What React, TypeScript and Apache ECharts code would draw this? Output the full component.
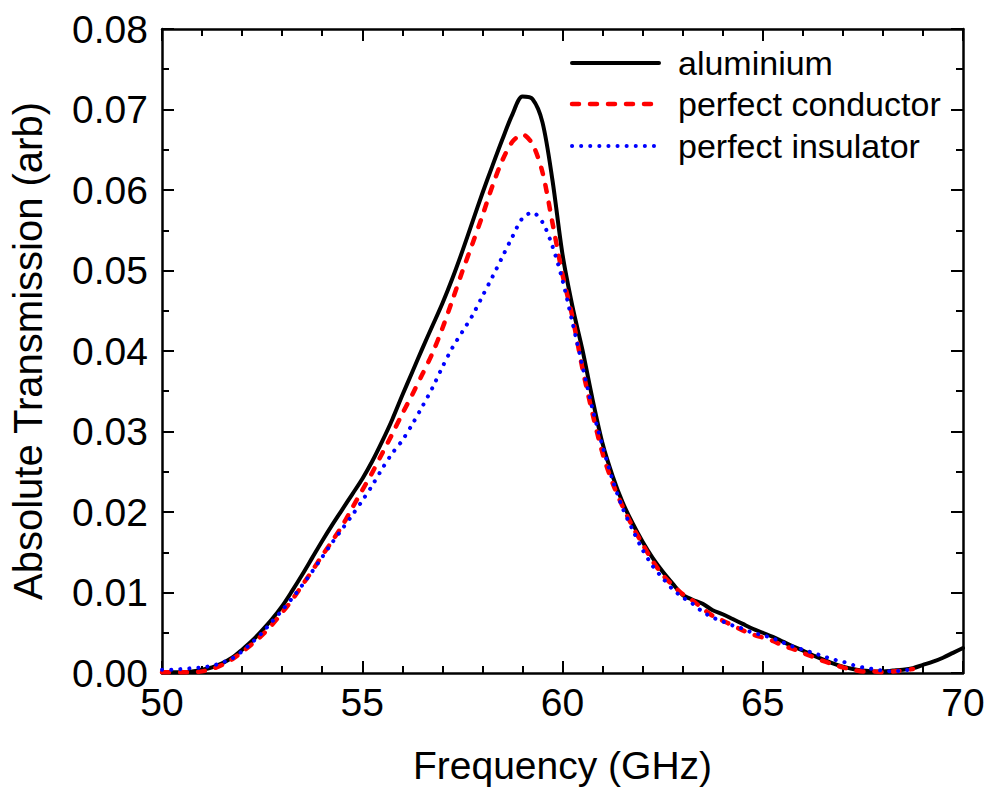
import React, { useEffect, useRef } from "react";
import * as echarts from "echarts";

const freq: number[] = [
  50.0, 50.25, 50.5, 50.75, 51.0, 51.25, 51.5, 51.75, 52.0, 52.25, 52.5, 52.75,
  53.0, 53.25, 53.5, 53.75, 54.0, 54.25, 54.5, 54.75, 55.0, 55.25, 55.5, 55.75,
  56.0, 56.25, 56.5, 56.75, 57.0, 57.25, 57.5, 57.75, 58.0, 58.25, 58.5, 58.75,
  59.0, 59.25, 59.5, 59.75, 60.0, 60.25, 60.5, 60.75, 61.0, 61.25, 61.5, 61.75,
  62.0, 62.25, 62.5, 62.75, 63.0, 63.25, 63.5, 63.75, 64.0, 64.25, 64.5, 64.75,
  65.0, 65.25, 65.5, 65.75, 66.0, 66.25, 66.5, 66.75, 67.0, 67.25, 67.5, 67.75,
  68.0, 68.25, 68.5, 68.75, 69.0, 69.25, 69.5, 69.75, 70.0,
];

const aluminium: (number | null)[] = [
  0.0001, 0.0001, 0.0001, 0.0002, 0.0004, 0.0007, 0.0012, 0.0019, 0.0029, 0.004, 0.0053, 0.0067,
  0.0083, 0.0102, 0.0122, 0.0143, 0.0164, 0.0184, 0.0203, 0.0222, 0.0241, 0.0263, 0.0288, 0.0315,
  0.0345, 0.0374, 0.0403, 0.0431, 0.0459, 0.049, 0.0524, 0.056, 0.0596, 0.063, 0.0663, 0.0694,
  0.0716, 0.0713, 0.0684, 0.0612, 0.052, 0.0455, 0.0401, 0.034, 0.0285, 0.0245, 0.0212, 0.0186,
  0.0163, 0.0143, 0.0126, 0.0111, 0.0097, 0.0091, 0.0086, 0.0078, 0.0073, 0.0067, 0.0061, 0.0055,
  0.005, 0.0045, 0.0039, 0.0033, 0.0028, 0.0022, 0.0017, 0.0012, 0.0008, 0.0005, 0.0003, 0.0002,
  0.0002, 0.0003, 0.0004, 0.0006, 0.001, 0.0014, 0.0019, 0.0025, 0.0031,
];

const perfectConductor: (number | null)[] = [
  0.0001, 0.0001, 0.0001, 0.0001, 0.0002, 0.0005, 0.001, 0.0017, 0.0026, 0.0036, 0.0047, 0.006,
  0.0075, 0.0091, 0.0109, 0.0127, 0.0146, 0.0164, 0.0183, 0.0205, 0.0227, 0.0249, 0.0273, 0.0297,
  0.0322, 0.0346, 0.0371, 0.0397, 0.0428, 0.0463, 0.0499, 0.0533, 0.0568, 0.0605, 0.0637, 0.066,
  0.0669, 0.0657, 0.0622, 0.0559, 0.0495, 0.0442, 0.0378, 0.0322, 0.0273, 0.0236, 0.0207, 0.0182,
  0.016, 0.0139, 0.0122, 0.0109, 0.0098, 0.009, 0.008, 0.0071, 0.0065, 0.0059, 0.0053, 0.0048,
  0.0044, 0.004, 0.0034, 0.003, 0.0025, 0.002, 0.0015, 0.0011, 0.0007, 0.0004, 0.0002, 0.0002,
  0.0001, 0.0002, 0.0003, 0.0005, null, null, null, null, null,
];

const perfectInsulator: (number | null)[] = [
  0.0004, 0.0004, 0.0005, 0.0006, 0.0007, 0.0009, 0.0013, 0.0018, 0.0027, 0.0038, 0.005, 0.0064,
  0.0078, 0.0093, 0.0109, 0.0126, 0.0144, 0.0162, 0.0179, 0.0196, 0.0214, 0.0233, 0.0254, 0.0273,
  0.0289, 0.0309, 0.0331, 0.0354, 0.038, 0.0404, 0.0424, 0.0444, 0.0468, 0.0492, 0.0517, 0.0542,
  0.0565, 0.0572, 0.056, 0.053, 0.0488, 0.0435, 0.0381, 0.0328, 0.0282, 0.024, 0.0205, 0.0178,
  0.0153, 0.0133, 0.0118, 0.0104, 0.0094, 0.0086, 0.0076, 0.0069, 0.0064, 0.0059, 0.0055, 0.005,
  0.0047, 0.0043, 0.0038, 0.0033, 0.0029, 0.0025, 0.0021, 0.0017, 0.0014, 0.001, 0.0007, 0.0005,
  0.0003, 0.0002, 0.0003, 0.0005, null, null, null, null, null,
];

const seriesNames = ["aluminium", "perfect conductor", "perfect insulator"];
const seriesColors = ["#000000", "#ff0000", "#0000ff"];

const FONT = "Liberation Sans, Arial, Helvetica, sans-serif";

function pairs(vals: (number | null)[]) {
  const out: number[][] = [];
  freq.forEach((f, i) => {
    if (vals[i] !== null && vals[i] !== undefined) out.push([f, vals[i] as number]);
  });
  return out;
}

const lineStyles = [
  { width: 4, type: "solid" as any },
  { width: 4.5, type: [7, 11] as any },
  { width: 4, type: [0.1, 9] as any },
];

export default function App() {
  const ref = useRef<HTMLDivElement>(null);
  useEffect(() => {
    if (!ref.current) return;
    const chart = echarts.init(ref.current, null, { renderer: "svg" });
    const axisLineStyle = { color: "#000", width: 2.5 };
    const baseX = {
      type: "value" as const,
      min: 50,
      max: 70,
      interval: 5,
      splitLine: { show: false },
      axisLine: { show: true, onZero: false, lineStyle: axisLineStyle },
      axisTick: { show: true, inside: true, length: 12, lineStyle: { color: "#000", width: 2 } },
      minorTick: { show: true, splitNumber: 5, length: 7, lineStyle: { color: "#000", width: 2 } },
    };
    const baseY = {
      type: "value" as const,
      min: 0,
      max: 0.08,
      interval: 0.01,
      splitLine: { show: false },
      axisLine: { show: true, onZero: false, lineStyle: axisLineStyle },
      axisTick: { show: true, inside: true, length: 12, lineStyle: { color: "#000", width: 2 } },
      minorTick: { show: true, splitNumber: 2, length: 7, lineStyle: { color: "#000", width: 2 } },
    };

    const legendRowsY = [63, 104, 146];
    const legendGraphics: any[] = [];
    seriesNames.forEach((name, i) => {
      legendGraphics.push({
        type: "line",
        shape: { x1: 572, y1: legendRowsY[i], x2: 659, y2: legendRowsY[i] },
        style: {
          stroke: seriesColors[i],
          lineWidth: lineStyles[i].width,
          lineDash: Array.isArray(lineStyles[i].type) ? lineStyles[i].type : null,
          lineCap: "round",
        },
        z: 10,
      });
      legendGraphics.push({
        type: "text",
        x: 678,
        y: legendRowsY[i],
        style: {
          text: name,
          fill: "#000",
          font: `34px ${FONT}`,
          textVerticalAlign: "middle",
          verticalAlign: "middle",
          align: "left",
        },
        z: 10,
      });
    });

    chart.setOption({
      animation: false,
      backgroundColor: "#fff",
      grid: { left: 161, right: 28, top: 29, bottom: 123, containLabel: false },
      graphic: legendGraphics,
      xAxis: [
        {
          ...baseX,
          position: "bottom",
          name: "Frequency (GHz)",
          nameLocation: "middle",
          nameGap: 73,
          nameTextStyle: { fontFamily: FONT, fontSize: 39, color: "#000" },
          axisLabel: { show: true, margin: 10, fontFamily: FONT, fontSize: 39, color: "#000" },
        },
        {
          ...baseX,
          position: "top",
          axisLabel: { show: false },
        },
      ],
      yAxis: [
        {
          ...baseY,
          position: "left",
          name: "Absolute Transmission (arb)",
          nameLocation: "middle",
          nameGap: 114,
          nameTextStyle: { fontFamily: FONT, fontSize: 40, color: "#000" },
          axisLabel: {
            show: true,
            margin: 14,
            fontFamily: FONT,
            fontSize: 39,
            color: "#000",
            formatter: (v: number) => v.toFixed(2),
          },
        },
        {
          ...baseY,
          position: "right",
          axisLabel: { show: false },
        },
      ],
      series: seriesNames.map((name, i) => ({
        name,
        type: "line",
        data: pairs([aluminium, perfectConductor, perfectInsulator][i]),
        showSymbol: false,
        symbol: "none",
        smooth: 0.3,
        z: 3 + i,
        lineStyle: {
          color: seriesColors[i],
          width: lineStyles[i].width,
          type: lineStyles[i].type,
          cap: "round",
          join: "round",
        },
        itemStyle: { color: seriesColors[i] },
      })),
    });
    return () => chart.dispose();
  }, []);
  return (
    <div
      ref={ref}
      style={{ position: "absolute", left: 0, top: 0, width: 991, height: 796 }}
    />
  );
}
